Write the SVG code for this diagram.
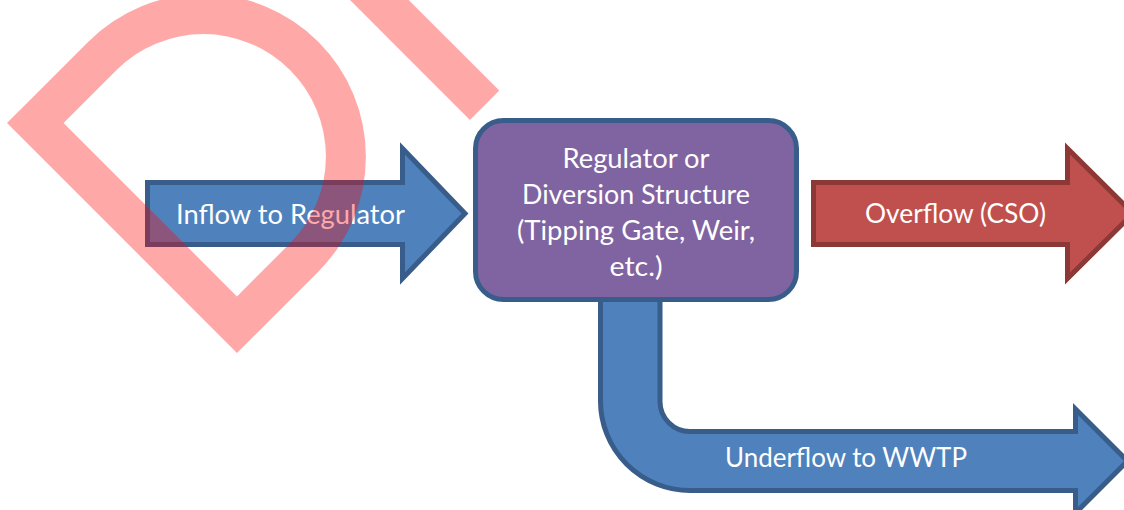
<svg xmlns="http://www.w3.org/2000/svg" width="1124" height="510" viewBox="0 0 1124 510">
  <style>
    .lbl { font-family: Lato, "Open Sans", "Liberation Sans", sans-serif; font-size: 27px; fill: #ffffff; text-anchor: middle; }
    .blue { fill: #4f81bd; stroke: #385d8a; stroke-width: 5; stroke-linejoin: miter; }
    .red { fill: #c0504d; stroke: #8c3836; stroke-width: 5; stroke-linejoin: miter; }
    .purple { fill: #8064a2; stroke: #385d8a; stroke-width: 5; }
    .wm { fill: #ff0000; fill-opacity: 0.34; }
  </style>
  <rect width="1124" height="510" fill="#ffffff"/>
  <g id="connectors">
    <g id="inflow">
      <path class="blue" d="M147.5,182.5 H402.5 V148.5 L465,213.5 L402.5,278.5 V244.5 H147.5 Z"/>
      <text class="lbl" x="290.5" y="224" textLength="229" lengthAdjust="spacingAndGlyphs">Inflow to Regulator</text>
    </g>
    <g id="overflow">
      <path class="red" d="M813.5,182.5 H1067.5 V148.5 L1133,213.5 L1067.5,278.5 V244.5 H813.5 Z"/>
      <text class="lbl" x="955.5" y="223" textLength="181" lengthAdjust="spacingAndGlyphs">Overflow (CSO)</text>
    </g>
    <g id="underflow">
      <path class="blue" d="M600.5,296 V401 A89.5,89.5 0 0 0 690,490.5 H1075.5 V513 L1127.5,461 L1075.5,409 V431.5 H690 A30,30 0 0 1 660,401.5 V296 Z"/>
      <text class="lbl" x="846" y="467" textLength="242" lengthAdjust="spacingAndGlyphs">Underflow to WWTP</text>
    </g>
  </g>
  <g id="regulator">
    <rect class="purple" x="475.5" y="120.5" width="321" height="179" rx="28" ry="28"/>
    <text class="lbl" x="636" y="168" textLength="147" lengthAdjust="spacingAndGlyphs">Regulator or</text>
    <text class="lbl" x="636" y="204" textLength="228" lengthAdjust="spacingAndGlyphs">Diversion Structure</text>
    <text class="lbl" x="636" y="240" textLength="238" lengthAdjust="spacingAndGlyphs">(Tipping Gate, Weir,</text>
    <text class="lbl" x="636" y="276" textLength="53" lengthAdjust="spacingAndGlyphs">etc.)</text>
  </g>
  <g id="watermark" transform="translate(7,123) rotate(45)">
    <path class="wm" fill-rule="evenodd" d="M0,0 L0,-115 A162.6,162.6 0 0 1 325.2,-115 L325.2,0 Z M40,-40 L40,-115 A122.6,122.6 0 0 1 285.2,-115 L285.2,-40 Z"/>
    <rect class="wm" x="0" y="-371" width="325.2" height="41.5"/>
  </g>
</svg>
